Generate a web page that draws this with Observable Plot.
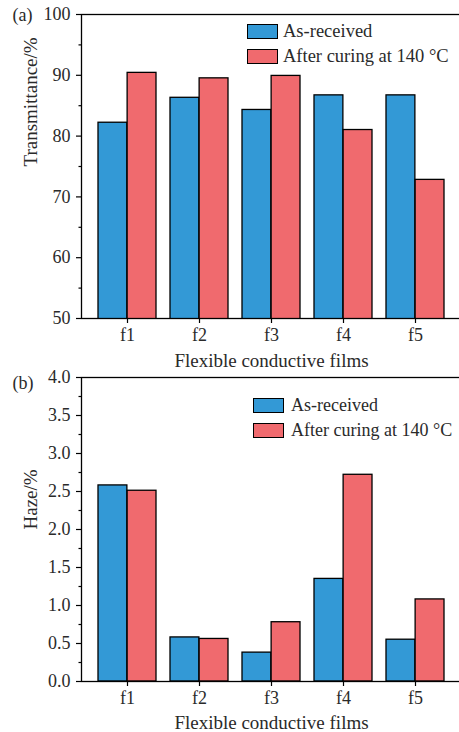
<!DOCTYPE html>
<html><head><meta charset="utf-8">
<script src="https://cdn.jsdelivr.net/npm/d3@7"></script>
<script src="https://cdn.jsdelivr.net/npm/@observablehq/plot@0.6"></script>
<style>
body{margin:0;background:#fff;overflow:hidden}
#wrap{position:relative;width:459px;height:732px;overflow:hidden;font-family:'Liberation Serif',serif;color:#2a2a2a}
.panel{position:relative;width:462px}
.panel svg{display:block;overflow:visible}
.panel svg text{font-family:'Liberation Serif',serif}
.legend{position:absolute;line-height:1}
.item{display:flex;align-items:center;height:25px;white-space:nowrap}
.sw{box-sizing:border-box;width:31px;height:15px;border:1.5px solid #000;flex:none}
</style></head><body>
<div id="wrap"><div class="panel" id="pa"></div><div class="panel" id="pb"></div></div>
<script>
const categories = ["f1", "f2", "f3", "f4", "f5"];
const seriesNames = ["As-received", "After curing at 140 °C"];
const transAsReceived = [82.2, 86.3, 84.3, 86.7, 86.7];
const transCured = [90.4, 89.5, 89.9, 81.0, 72.8];
const hazeAsReceived = [2.58, 0.58, 0.38, 1.35, 0.55];
const hazeCured = [2.51, 0.56, 0.78, 2.72, 1.08];
const transTicks = [50, 60, 70, 80, 90, 100];
const transMinor = [55, 65, 75, 85, 95];
const hazeTicks = [0, 0.5, 1, 1.5, 2, 2.5, 3, 3.5, 4];
const hazeMinor = [0.25, 0.75, 1.25, 1.75, 2.25, 2.75, 3.25, 3.75];
const colors = ["#3399d6", "#f06a6e"];
const xTitle = "Flexible conductive films";

const FONT = "'Liberation Serif',serif";
const TXT = "#2a2a2a";
const FS = 18;
const TFS = 19;

function panel(el, o) {
  const W = 462, ML = 81, MR = 1;
  el.style.height = o.h + "px";
  const data = categories.map((c, i) => ({cat: c, a: o.v1[i], b: o.v2[i]}));
  const bw = d3.scaleBand().domain(categories).range([ML, W - MR])
    .paddingInner(0.2).paddingOuter(0.21).bandwidth();
  const svg = Plot.plot({
    width: W, height: o.h,
    marginLeft: ML, marginRight: MR, marginTop: o.mt, marginBottom: o.mb,
    style: {fontFamily: FONT, fontSize: FS + "px", color: TXT, background: "transparent", overflow: "visible"},
    x: {domain: categories, paddingInner: 0.2, paddingOuter: 0.21, axis: null},
    y: {domain: o.domain, axis: null},
    marks: [
      Plot.barY(data, {x: "cat", y: "a", fill: colors[0], stroke: "#000", strokeWidth: 1.3, insetRight: bw / 2, clip: true}),
      Plot.barY(data, {x: "cat", y: "b", fill: colors[1], stroke: "#000", strokeWidth: 1.3, insetLeft: bw / 2, clip: true}),
      Plot.frame({stroke: "#000", strokeWidth: 1.3}),
      Plot.axisY(o.minor, {tickSize: 2.5, tickFormat: () => "", label: null, stroke: "#000", strokeWidth: 1.2}),
      Plot.axisY(o.ticks, {tickSize: 5, tickPadding: 6, tickFormat: o.fmt, label: null, stroke: "#000", strokeWidth: 1.2, fill: TXT, fontSize: FS}),
      Plot.axisX({tickSize: 5, tickPadding: 5, label: null, stroke: "#000", strokeWidth: 1.2, fill: TXT, fontSize: FS}),
      Plot.text([o.ylabel], {frameAnchor: "left", dx: -51, rotate: -90, fontSize: TFS, fill: TXT, lineAnchor: "middle"}),
      Plot.text([xTitle], {frameAnchor: "bottom", dy: o.xtDy, fontSize: TFS, fill: TXT, lineAnchor: "middle"}),
      Plot.text([o.tag], {frameAnchor: "top-left", dx: -69, dy: o.tagDy, textAnchor: "start", lineAnchor: "middle", fontSize: FS, fill: TXT})
    ]
  });
  el.appendChild(svg);
  const lg = document.createElement("div");
  lg.className = "legend";
  lg.style.left = o.lgx + "px";
  lg.style.top = o.lgy + "px";
  lg.style.fontSize = o.lgfs + "px";
  seriesNames.forEach((n, i) => {
    const it = document.createElement("div");
    it.className = "item";
    const sw = document.createElement("div");
    sw.className = "sw";
    sw.style.background = colors[i];
    sw.style.marginRight = o.gap + "px";
    const t = document.createElement("span");
    t.textContent = n;
    it.appendChild(sw); it.appendChild(t);
    lg.appendChild(it);
  });
  el.appendChild(lg);
}

panel(document.getElementById("pa"), {
  v1: transAsReceived, v2: transCured, domain: [50, 100],
  ticks: transTicks, minor: transMinor, fmt: d => d3.format("d")(d),
  ylabel: "Transmittance/%", tag: "(a)", tagDy: 1, h: 372, mt: 14, mb: 54,
  xtDy: 42, lgx: 247, lgy: 19, gap: 5, lgfs: 18.5
});
panel(document.getElementById("pb"), {
  v1: hazeAsReceived, v2: hazeCured, domain: [0, 4],
  ticks: hazeTicks, minor: hazeMinor, fmt: d => d3.format(".1f")(d),
  ylabel: "Haze/%", tag: "(b)", tagDy: 6, h: 360, mt: 5, mb: 51,
  xtDy: 41, lgx: 253, lgy: 20.5, gap: 7, lgfs: 18
});
</script>
</body></html>
